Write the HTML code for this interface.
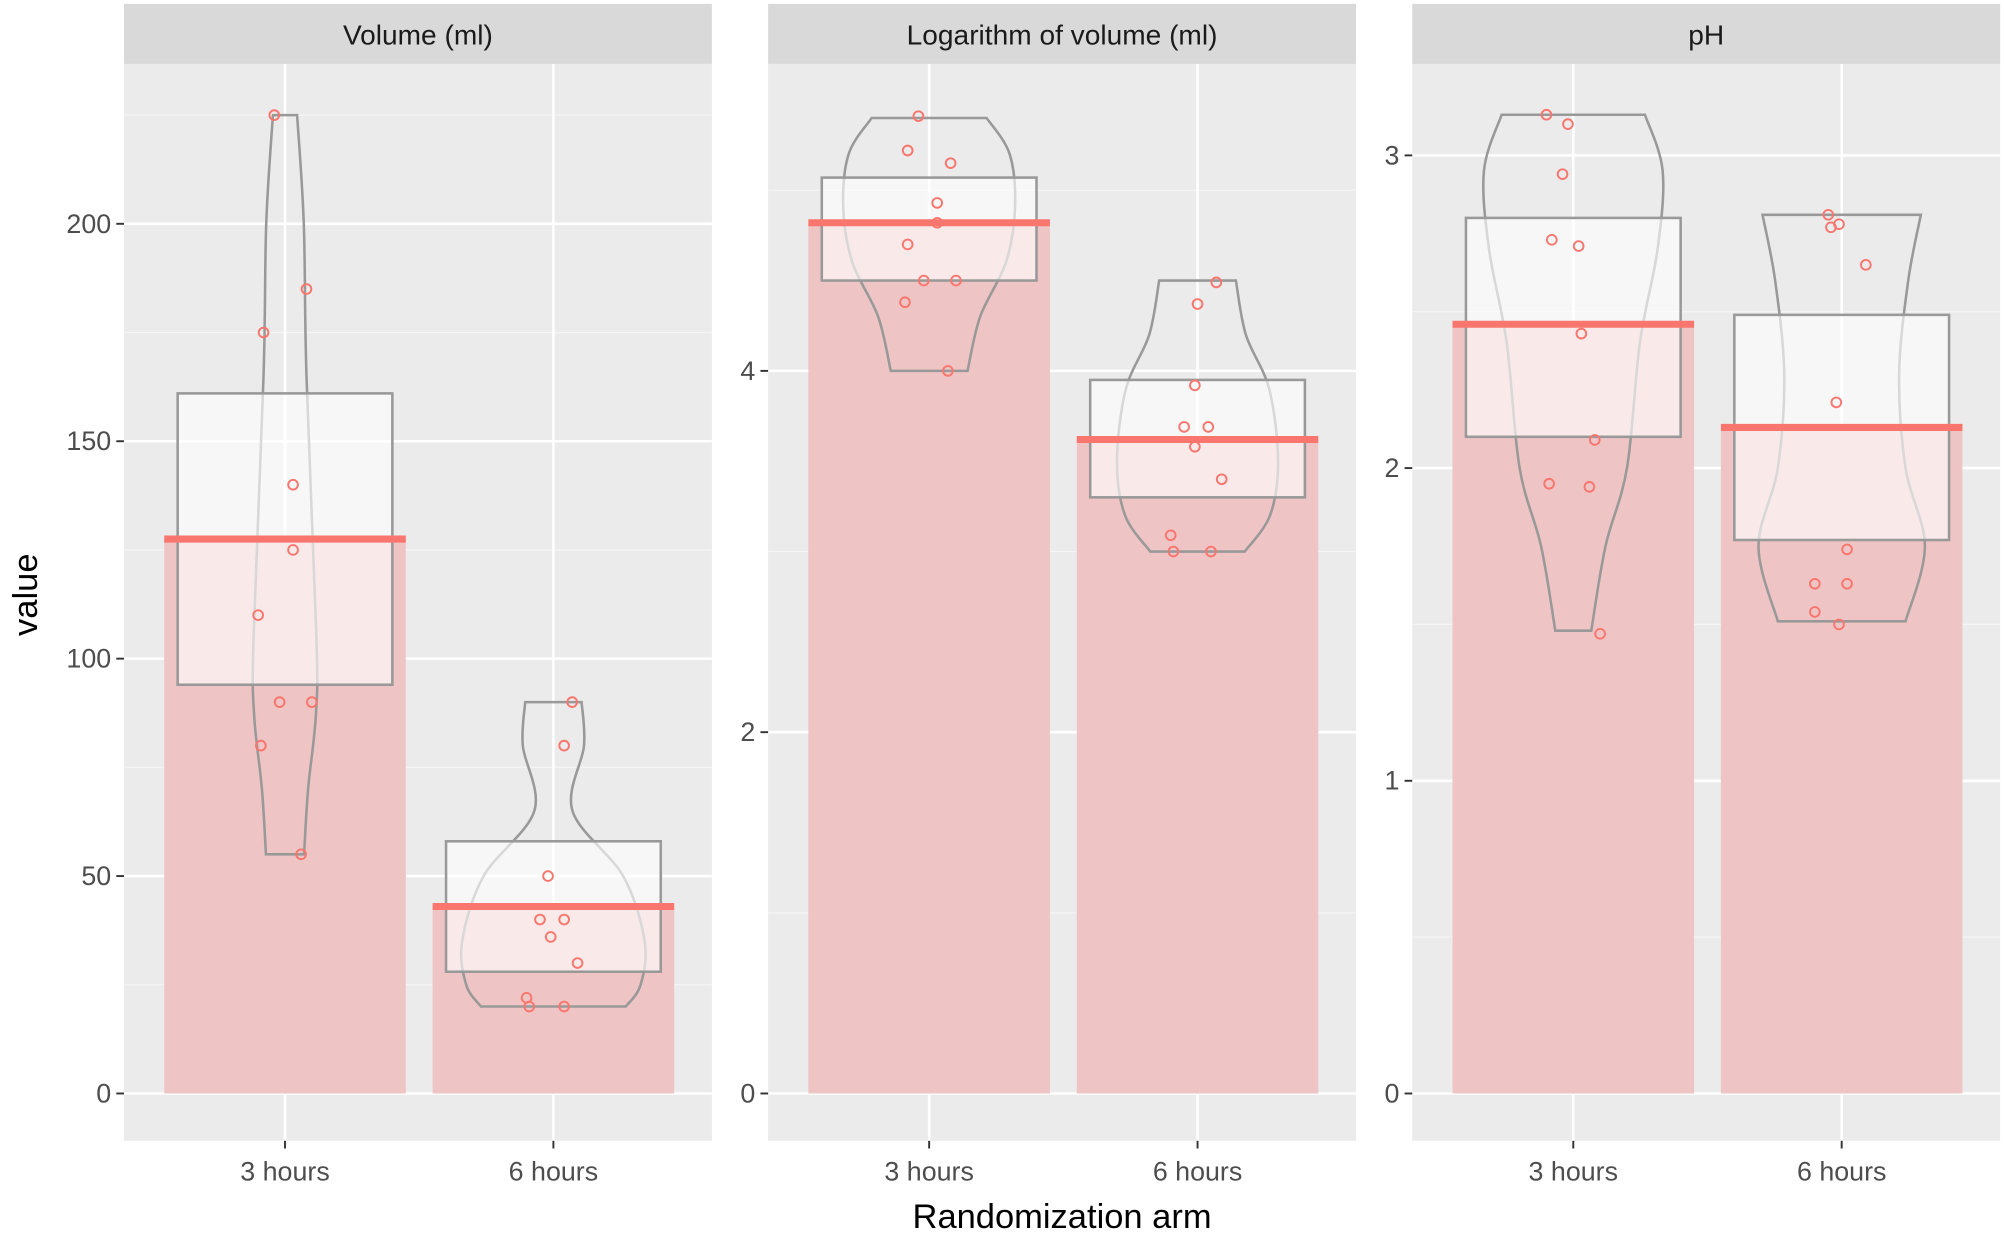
<!DOCTYPE html>
<html><head><meta charset="utf-8"><style>
html,body{margin:0;padding:0;background:#fff;}
svg{display:block;font-family:"Liberation Sans",sans-serif;}
</style></head><body>
<svg id="chart" width="2004" height="1238" viewBox="0 0 1568 968" preserveAspectRatio="none" xmlns="http://www.w3.org/2000/svg"></svg>
<script>
const categories = ["3 hours","6 hours"];
const panelTitles = ["Volume (ml)","Logarithm of volume (ml)","pH"];
const yMajorTicks = [[0,50,100,150,200],[0,2,4],[0,1,2,3]];
const yMinorTicks = [[25,75,125,175,225],[1,3,5],[0.5,1.5,2.5]];
const means = [[127.5,43],[4.82,3.62],[2.46,2.13]];
const boxLow = [[94,28],[4.5,3.3],[2.1,1.77]];
const boxHigh = [[161,58],[5.07,3.95],[2.8,2.49]];
const points = [
 [[225,185,175,140,125,110,90,90,80,55],[90,80,50,40,40,36,30,22,20,20]],
 [[5.41,5.22,5.15,4.93,4.82,4.70,4.50,4.50,4.38,4.0],[4.49,4.37,3.92,3.69,3.69,3.58,3.40,3.09,3.0,3.0]],
 [[3.13,3.10,2.94,2.73,2.71,2.43,2.09,1.95,1.94,1.47],[2.81,2.78,2.77,2.65,2.21,1.74,1.63,1.63,1.54,1.50]]
];
const jitter = [
 [[-0.04,0.08,-0.08,0.03,0.03,-0.1,-0.02,0.1,-0.09,0.06],[0.07,0.04,-0.02,-0.05,0.04,-0.01,0.09,-0.1,-0.09,0.04]],
 [[-0.04,-0.08,0.08,0.03,0.03,-0.08,-0.02,0.1,-0.09,0.07],[0.07,0.0,-0.01,-0.05,0.04,-0.01,0.09,-0.1,-0.09,0.05]],
 [[-0.1,-0.02,-0.04,-0.08,0.02,0.03,0.08,-0.09,0.06,0.1],[-0.05,-0.01,-0.04,0.09,-0.02,0.02,-0.1,0.02,-0.1,-0.01]]
];
const violinVals = [
 [[225,200,165,105,87,70,55],[90,80,65,50,35,25,20]],
 [[5.4,5.2,4.9,4.6,4.3,4.0],[4.5,4.2,3.9,3.5,3.2,3.0]],
 [[3.13,2.95,2.7,2.4,2.0,1.75,1.48],[2.81,2.6,2.3,2.0,1.75,1.51]]
];
const violinHalf = [
 [[0.045,0.07,0.08,0.117,0.115,0.086,0.071],[0.105,0.114,0.071,0.26,0.34,0.325,0.27]],
 [[0.214,0.3,0.32,0.286,0.19,0.143],[0.143,0.18,0.267,0.3,0.27,0.176]],
 [[0.267,0.333,0.314,0.248,0.2,0.12,0.067],[0.295,0.248,0.214,0.238,0.31,0.238]]
];
const yZeroPx = 855;
const yScalePx = [170/50, 282.5/2, 244.5];
const panelX = [97,601,1105], panelW = 460, catStep = 210, catOff = 126;
const svg = document.getElementById('chart');
const NS = "http://www.w3.org/2000/svg";
function mk(tag, attrs, parent){const e=document.createElementNS(NS,tag);for(const k in attrs)e.setAttribute(k,attrs[k]);(parent||svg).appendChild(e);return e;}
function crPath(pts){let d="M"+pts[0][0]+","+pts[0][1];for(let i=0;i<pts.length-1;i++){const p0=pts[Math.max(0,i-1)],p1=pts[i],p2=pts[i+1],p3=pts[Math.min(pts.length-1,i+2)];const c1=[p1[0]+(p2[0]-p0[0])/6,p1[1]+(p2[1]-p0[1])/6],c2=[p2[0]-(p3[0]-p1[0])/6,p2[1]-(p3[1]-p1[1])/6];d+=" C"+c1+" "+c2+" "+p2;}return d;}
for(let p=0;p<3;p++){
  const g=mk('g',{});
  
  
  const x0=panelX[p];
  const yS=v=>yZeroPx-v*yScalePx[p];
  const xS=(c,f)=>x0+catOff+c*catStep+(f||0)*catStep;
  const strip=mk('rect',{x:x0,y:3,width:panelW,height:47,fill:'#d9d9d9'},g);
  
  const st=mk('text',{x:x0+panelW/2,y:35,'text-anchor':'middle','font-size':22,fill:'#1a1a1a'},g);st.textContent=panelTitles[p];
  
  const bg=mk('rect',{x:x0,y:50,width:panelW,height:842,fill:'#ebebeb'},g);
  
  yMinorTicks[p].forEach(v=>{const l=mk('line',{x1:x0,x2:x0+panelW,y1:yS(v),y2:yS(v),stroke:'#f5f5f5','stroke-width':1},g);});
  yMajorTicks[p].forEach(v=>{
    const l=mk('line',{x1:x0,x2:x0+panelW,y1:yS(v),y2:yS(v),stroke:'#fff','stroke-width':2},g);
    const tk=mk('line',{x1:x0-6,x2:x0,y1:yS(v),y2:yS(v),stroke:'#333','stroke-width':1.5},g);
    const t=mk('text',{x:x0-10,y:yS(v)+7,'text-anchor':'end','font-size':21,fill:'#4d4d4d'},g);t.textContent=v;
    
  });
  categories.forEach((c,ci)=>{
    const l=mk('line',{x1:xS(ci),x2:xS(ci),y1:50,y2:892,stroke:'#fff','stroke-width':2},g);
    const tk=mk('line',{x1:xS(ci),x2:xS(ci),y1:892,y2:898,stroke:'#333','stroke-width':1.5},g);
    const t=mk('text',{x:xS(ci),y:923,'text-anchor':'middle','font-size':21,fill:'#4d4d4d'},g);t.textContent=c;
    
  });
  categories.forEach((c,ci)=>{
    const m=means[p][ci];
    const bar=mk('rect',{x:xS(ci,-0.45),y:yS(m),width:catStep*0.9,height:yS(0)-yS(m),fill:'#efc4c4'},g);
    
    const vv=violinVals[p][ci],vh=violinHalf[p][ci];
    const right=vv.map((v,i)=>[xS(ci,vh[i]),yS(v)]);
    const left=vv.map((v,i)=>[xS(ci,-vh[i]),yS(v)]).reverse();
    const d=crPath(right)+" L"+left[0]+" "+crPath(left).slice(1).replace(/^[^C]*/,'')+" Z";
    const vio=mk('path',{d:d,fill:'none',stroke:'#999','stroke-width':2},g);
    
    const bx=mk('rect',{x:xS(ci,-0.4),y:yS(boxHigh[p][ci]),width:catStep*0.8,height:yS(boxLow[p][ci])-yS(boxHigh[p][ci]),fill:'rgba(255,255,255,0.62)',stroke:'#999','stroke-width':2},g);
    
    const ml=mk('line',{x1:xS(ci,-0.45),x2:xS(ci,0.45),y1:yS(m),y2:yS(m),stroke:'#f8766d','stroke-width':5.5},g);
    
    points[p][ci].forEach((v,i)=>{
      const pt=mk('circle',{cx:xS(ci,jitter[p][ci][i]),cy:yS(v),r:3.8,fill:'none',stroke:'#f8766d','stroke-width':1.5},g);
      
    });
  });
}
const yt=mk('text',{x:0,y:0,transform:'translate(29,465) rotate(-90)','text-anchor':'middle','font-size':27,fill:'#000'});yt.textContent='value';

const xt=mk('text',{x:831,y:960,'text-anchor':'middle','font-size':27,fill:'#000'});xt.textContent='Randomization arm';

</script>
</body></html>
